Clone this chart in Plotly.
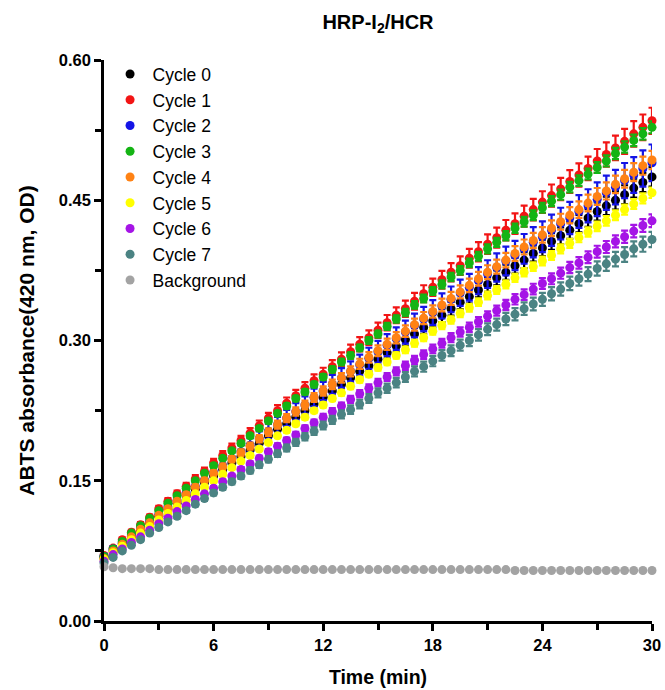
import plotly.graph_objects as go

# ---------------- data ----------------
time_min = [i * 0.5 for i in range(61)]

cycle0 = [0.068, 0.075, 0.083, 0.090, 0.097, 0.105, 0.112, 0.119, 0.126, 0.134,
          0.141, 0.148, 0.155, 0.162, 0.169, 0.176, 0.183, 0.190, 0.198, 0.205,
          0.211, 0.218, 0.225, 0.232, 0.239, 0.246, 0.253, 0.260, 0.267, 0.273,
          0.280, 0.287, 0.294, 0.301, 0.307, 0.314, 0.321, 0.327, 0.334, 0.341,
          0.347, 0.354, 0.360, 0.367, 0.373, 0.380, 0.386, 0.393, 0.399, 0.406,
          0.412, 0.418, 0.425, 0.431, 0.438, 0.444, 0.450, 0.456, 0.463, 0.469,
          0.475]
cycle1 = [0.070, 0.078, 0.087, 0.095, 0.103, 0.111, 0.120, 0.128, 0.136, 0.144,
          0.152, 0.160, 0.169, 0.177, 0.185, 0.193, 0.201, 0.209, 0.217, 0.225,
          0.233, 0.241, 0.249, 0.257, 0.264, 0.272, 0.280, 0.288, 0.296, 0.303,
          0.311, 0.319, 0.327, 0.334, 0.342, 0.350, 0.357, 0.365, 0.373, 0.380,
          0.388, 0.395, 0.403, 0.410, 0.418, 0.425, 0.433, 0.440, 0.448, 0.455,
          0.462, 0.470, 0.477, 0.484, 0.492, 0.499, 0.506, 0.513, 0.521, 0.528,
          0.535]
cycle2 = [0.069, 0.077, 0.084, 0.092, 0.099, 0.107, 0.114, 0.122, 0.129, 0.137,
          0.144, 0.151, 0.159, 0.166, 0.174, 0.181, 0.188, 0.195, 0.203, 0.210,
          0.217, 0.224, 0.231, 0.239, 0.246, 0.253, 0.260, 0.267, 0.274, 0.281,
          0.288, 0.295, 0.302, 0.309, 0.316, 0.323, 0.330, 0.337, 0.344, 0.351,
          0.357, 0.364, 0.371, 0.378, 0.385, 0.391, 0.398, 0.405, 0.411, 0.418,
          0.425, 0.431, 0.438, 0.444, 0.451, 0.458, 0.464, 0.471, 0.477, 0.484,
          0.490]
cycle3 = [0.069, 0.077, 0.085, 0.094, 0.102, 0.110, 0.118, 0.126, 0.134, 0.142,
          0.150, 0.158, 0.166, 0.174, 0.182, 0.190, 0.198, 0.206, 0.214, 0.222,
          0.230, 0.238, 0.245, 0.253, 0.261, 0.269, 0.277, 0.284, 0.292, 0.300,
          0.307, 0.315, 0.323, 0.330, 0.338, 0.345, 0.353, 0.360, 0.368, 0.375,
          0.383, 0.390, 0.398, 0.405, 0.412, 0.420, 0.427, 0.434, 0.442, 0.449,
          0.456, 0.464, 0.471, 0.478, 0.485, 0.492, 0.500, 0.507, 0.514, 0.521,
          0.528]
cycle4 = [0.067, 0.075, 0.082, 0.090, 0.098, 0.105, 0.113, 0.120, 0.128, 0.135,
          0.143, 0.150, 0.158, 0.165, 0.173, 0.180, 0.187, 0.195, 0.202, 0.210,
          0.217, 0.224, 0.231, 0.239, 0.246, 0.253, 0.260, 0.267, 0.275, 0.282,
          0.289, 0.296, 0.303, 0.310, 0.317, 0.324, 0.331, 0.338, 0.345, 0.352,
          0.359, 0.366, 0.373, 0.379, 0.386, 0.393, 0.400, 0.407, 0.413, 0.420,
          0.427, 0.434, 0.440, 0.447, 0.454, 0.460, 0.467, 0.473, 0.480, 0.487,
          0.493]
cycle5 = [0.066, 0.073, 0.080, 0.087, 0.094, 0.101, 0.108, 0.115, 0.122, 0.129,
          0.136, 0.143, 0.150, 0.157, 0.164, 0.171, 0.177, 0.184, 0.191, 0.198,
          0.204, 0.211, 0.218, 0.225, 0.231, 0.238, 0.244, 0.251, 0.258, 0.264,
          0.271, 0.277, 0.284, 0.290, 0.297, 0.303, 0.310, 0.316, 0.322, 0.329,
          0.335, 0.341, 0.348, 0.354, 0.360, 0.367, 0.373, 0.379, 0.385, 0.391,
          0.398, 0.404, 0.410, 0.416, 0.422, 0.428, 0.434, 0.440, 0.446, 0.452,
          0.458]
cycle6 = [0.064, 0.071, 0.077, 0.084, 0.090, 0.097, 0.104, 0.110, 0.117, 0.123,
          0.130, 0.136, 0.142, 0.149, 0.155, 0.162, 0.168, 0.174, 0.181, 0.187,
          0.193, 0.199, 0.206, 0.212, 0.218, 0.224, 0.230, 0.237, 0.243, 0.249,
          0.255, 0.261, 0.267, 0.273, 0.279, 0.285, 0.291, 0.297, 0.303, 0.309,
          0.314, 0.320, 0.326, 0.332, 0.338, 0.344, 0.349, 0.355, 0.361, 0.366,
          0.372, 0.378, 0.383, 0.389, 0.395, 0.400, 0.406, 0.411, 0.417, 0.423,
          0.428]
cycle7 = [0.062, 0.068, 0.075, 0.081, 0.087, 0.094, 0.100, 0.106, 0.112, 0.118,
          0.125, 0.131, 0.137, 0.143, 0.149, 0.155, 0.161, 0.167, 0.173, 0.179,
          0.185, 0.191, 0.197, 0.203, 0.209, 0.215, 0.221, 0.226, 0.232, 0.238,
          0.244, 0.249, 0.255, 0.261, 0.267, 0.272, 0.278, 0.284, 0.289, 0.295,
          0.300, 0.306, 0.312, 0.317, 0.323, 0.328, 0.334, 0.339, 0.344, 0.350,
          0.355, 0.361, 0.366, 0.371, 0.377, 0.382, 0.387, 0.392, 0.398, 0.403,
          0.408]
background = [0.058, 0.057, 0.056, 0.056, 0.056, 0.056, 0.055, 0.055, 0.055, 0.055,
              0.055, 0.055, 0.055, 0.055, 0.055, 0.055, 0.055, 0.055, 0.055, 0.055,
              0.055, 0.055, 0.055, 0.055, 0.055, 0.055, 0.055, 0.055, 0.055, 0.055,
              0.055, 0.055, 0.055, 0.055, 0.055, 0.055, 0.055, 0.055, 0.055, 0.055,
              0.055, 0.055, 0.055, 0.055, 0.055, 0.054, 0.054, 0.054, 0.054, 0.054,
              0.054, 0.054, 0.054, 0.054, 0.054, 0.054, 0.054, 0.054, 0.054, 0.054,
              0.054]

# relative SD (fraction of the mean)
err_frac = [0.022, 0.026, 0.040, 0.012, 0.020, 0.012, 0.016, 0.020, 0.0]

series_names = ["Cycle 0", "Cycle 1", "Cycle 2", "Cycle 3", "Cycle 4",
                "Cycle 5", "Cycle 6", "Cycle 7", "Background"]
series_values = [cycle0, cycle1, cycle2, cycle3, cycle4,
                 cycle5, cycle6, cycle7, background]
series_colors = ["#000000", "#f21414", "#1414e6", "#14b414", "#ff8214",
                 "#ffff00", "#a514e6", "#4b8383", "#a3a3a3"]

x_ticks = [0, 6, 12, 18, 24, 30]
y_ticks = [0.00, 0.15, 0.30, 0.45, 0.60]

FONT = "Arial, 'Liberation Sans', sans-serif"

fig = go.Figure()
for name, vals, col, ef in zip(series_names, series_values, series_colors, err_frac):
    errs = [v * ef for v in vals]
    fig.add_trace(go.Scatter(
        x=time_min, y=vals, name=name, mode="markers",
        marker=dict(color=col, size=9, line=dict(width=0)),
        error_y=dict(type="data", array=errs, visible=ef > 0,
                     color=col, thickness=2.2, width=3.5),
        cliponaxis=False,
    ))

fig.update_layout(
    width=665, height=690,
    margin=dict(l=104, r=13, t=60, b=69),
    paper_bgcolor="white", plot_bgcolor="white",
    font=dict(family=FONT, color="black"),
    title=dict(text="<b>HRP-I<sub>2</sub>/HCR</b>", x=0.5, xref="paper",
               y=1 - 22 / 690, yref="container", yanchor="middle",
               font=dict(size=20, family=FONT)),
    showlegend=True,
    legend=dict(x=0.0065, y=1.007, xanchor="left", yanchor="top",
                bgcolor="rgba(0,0,0,0)", font=dict(size=17.5, family=FONT),
                tracegroupgap=0, itemsizing="trace", itemwidth=35),
    xaxis=dict(range=[0, 30], tickvals=x_ticks,
               ticktext=[str(v) for v in x_ticks], automargin=False,
               showgrid=False, zeroline=False, showline=True,
               linecolor="black", linewidth=2.5,
               ticks="outside", ticklen=7, tickwidth=2.5, tickcolor="black",
               minor=dict(dtick=3, tick0=0, ticks="outside", ticklen=6,
                          tickwidth=2.5, tickcolor="black", showgrid=False),
               tickfont=dict(size=16.5, family=FONT, weight="bold"),
               title=dict(text="<b>Time (min)</b>", font=dict(size=19.5, family=FONT),
                          standoff=18)),
    yaxis=dict(range=[0, 0.6], tickvals=y_ticks,
               ticktext=["%.2f" % v for v in y_ticks], automargin=False,
               showgrid=False, zeroline=False, showline=True,
               linecolor="black", linewidth=2.5,
               ticks="outside", ticklen=7, tickwidth=2.5, tickcolor="black",
               minor=dict(dtick=0.075, tick0=0, ticks="outside", ticklen=6,
                          tickwidth=2.5, tickcolor="black", showgrid=False),
               tickfont=dict(size=16.5, family=FONT, weight="bold"),
               title=dict(text="<b>ABTS absorbance(420 nm, OD)</b>",
                          font=dict(size=21, family=FONT), standoff=19)),
)

fig.write_html("out.html")
